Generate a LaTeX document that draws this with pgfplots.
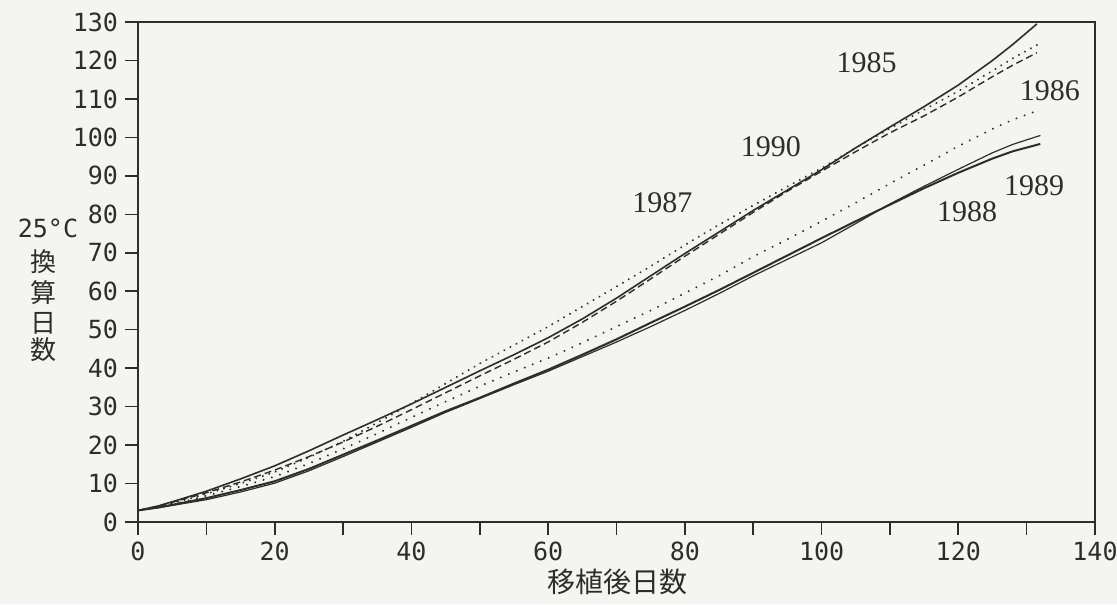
\documentclass[border=0pt]{standalone}
\usepackage{pgfplots}
\pgfplotsset{compat=1.18}
\usepackage{fontspec}
\setmainfont{Liberation Serif}
\newfontfamily\tickfont{DejaVu Sans Mono}
\newfontfamily\cjk{Noto Sans CJK JP}
\definecolor{ink}{RGB}{45,45,45}
\definecolor{paper}{RGB}{244,244,242}
\begin{document}
\begin{tikzpicture}
\path[use as bounding box] (-69pt,-41pt) rectangle (489.5pt,261pt);
\fill[paper] (-69pt,-41pt) rectangle (489.5pt,261pt);
\begin{axis}[
  at={(0,0)}, anchor=south west,
  width=478.5pt, height=250pt, scale only axis,
  xmin=0, xmax=140, ymin=0, ymax=130,
  xtick={0,20,...,140}, minor xtick={10,30,...,130},
  ytick={0,10,...,130},
  tick align=outside, xtick pos=bottom, ytick pos=left,
  major tick length=6.5pt, minor tick length=6.5pt,
  every tick/.style={ink, line width=0.8pt},
  axis line style={ink, line width=1.3pt},
  ticklabel style={font=\tickfont\fontsize{12.5}{14}\selectfont, text=ink},
  /pgf/number format/assume math mode=true,
  clip=false,
  solid85/.style={ink, line width=0.8pt},
]
% 1985 solid
\addplot[solid85] coordinates {(0,3)(3,4.2)(6,5.8)(10,8)(15,11.2)(20,14.6)(25,18.5)(30,22.6)(35,26.6)(40,30.7)(45,35)(50,39.3)(55,43.5)(60,47.9)(65,52.8)(70,58.2)(75,64)(80,69.8)(85,75.4)(90,81)(95,86.3)(100,91.6)(105,97.3)(110,102.7)(115,108)(120,113.6)(125,120)(128,124.2)(131.5,129.5)};
% 1990 dashed
\addplot[ink, line width=0.7pt, dash pattern=on 3.5pt off 2pt] coordinates {(0,3)(3,4.1)(6,5.6)(10,7.6)(15,10.4)(20,13.5)(25,17)(30,20.8)(35,24.9)(40,29.2)(45,33.6)(50,38)(55,42.3)(60,46.8)(65,51.9)(70,57.4)(75,63.2)(80,69.1)(85,74.8)(90,80.5)(95,86)(100,91.2)(105,96.3)(110,101.2)(115,105.6)(120,110.5)(125,115.8)(128,118.8)(131.5,122)};
% 1987 dotted
\addplot[ink, line width=1.1pt, line cap=round, dash pattern=on 0.01pt off 3.4pt] coordinates {(0,3)(3,4)(6,5.3)(10,7.3)(15,10)(20,13)(25,16.8)(30,21)(35,25.8)(40,30.8)(45,36)(50,41.2)(55,46)(60,50.8)(65,56)(70,61.2)(75,66.5)(80,72)(85,77.3)(90,82.3)(95,87.2)(100,92)(105,97.3)(110,102.3)(115,107.2)(120,112)(125,117.3)(128,120.6)(131.5,124)};
% 1986 dotted
\addplot[ink, line width=1.1pt, line cap=round, dash pattern=on 0.01pt off 4.3pt] coordinates {(0,3)(3,3.9)(6,5)(10,6.8)(15,9.2)(20,11.8)(25,15.2)(30,19)(35,23)(40,27.2)(45,31.3)(50,35.3)(55,39)(60,42.6)(65,46.6)(70,50.8)(75,55)(80,59.5)(85,64)(90,69)(95,73.5)(100,78.2)(105,83)(110,88)(115,92.8)(120,97.7)(125,102.2)(128,104.6)(132,107.2)};
% 1988 solid
\addplot[ink, line width=1pt] coordinates {(0,3)(3,3.8)(6,4.8)(10,6.2)(15,8.3)(20,10.6)(25,13.8)(30,17.5)(35,21.2)(40,25)(45,28.8)(50,32.3)(55,36)(60,39.6)(65,43.5)(70,47.5)(75,51.8)(80,56)(85,60.3)(90,64.8)(95,69.3)(100,73.8)(105,78.2)(110,82.5)(115,86.8)(120,90.8)(125,94.5)(128,96.4)(132,98.3)};
% 1989 solid thin
\addplot[ink, line width=0.6pt] coordinates {(0,3)(3,3.7)(6,4.6)(10,5.8)(15,7.8)(20,10.1)(25,13.3)(30,17)(35,20.8)(40,24.6)(45,28.5)(50,32.1)(55,35.7)(60,39.2)(65,43)(70,46.8)(75,50.8)(80,55)(85,59.4)(90,64)(95,68.3)(100,72.6)(105,77.6)(110,82.7)(115,87.3)(120,91.7)(125,96)(128,98.2)(132,100.5)};
\begin{scope}[every node/.style={font=\fontsize{15}{17}\selectfont, text=ink, inner sep=0pt}]
\node at (axis cs:106.6,119.3) {1985};
\node at (axis cs:133.4,112.1) {1986};
\node at (axis cs:76.7,82.9) {1987};
\node at (axis cs:121.3,80.6) {1988};
\node at (axis cs:131.1,87.4) {1989};
\node at (axis cs:92.6,97.5) {1990};
\end{scope}
\end{axis}
\node[font=\tickfont\fontsize{12.5}{14}\selectfont, text=ink, inner sep=0pt] at (-45pt,147pt) {25°C};
\begin{scope}[every node/.style={font=\cjk\fontsize{13}{14}\selectfont, text=ink, inner sep=0pt}]
\node at (-47pt,130pt) {換};
\node at (-47pt,114.5pt) {算};
\node at (-47pt,99.5pt) {日};
\node at (-47pt,86pt) {数};
\end{scope}
\node[font=\cjk\fontsize{14}{16}\selectfont, text=ink, inner sep=0pt] at (239.5pt,-30pt) {移植後日数};
\end{tikzpicture}
\end{document}
